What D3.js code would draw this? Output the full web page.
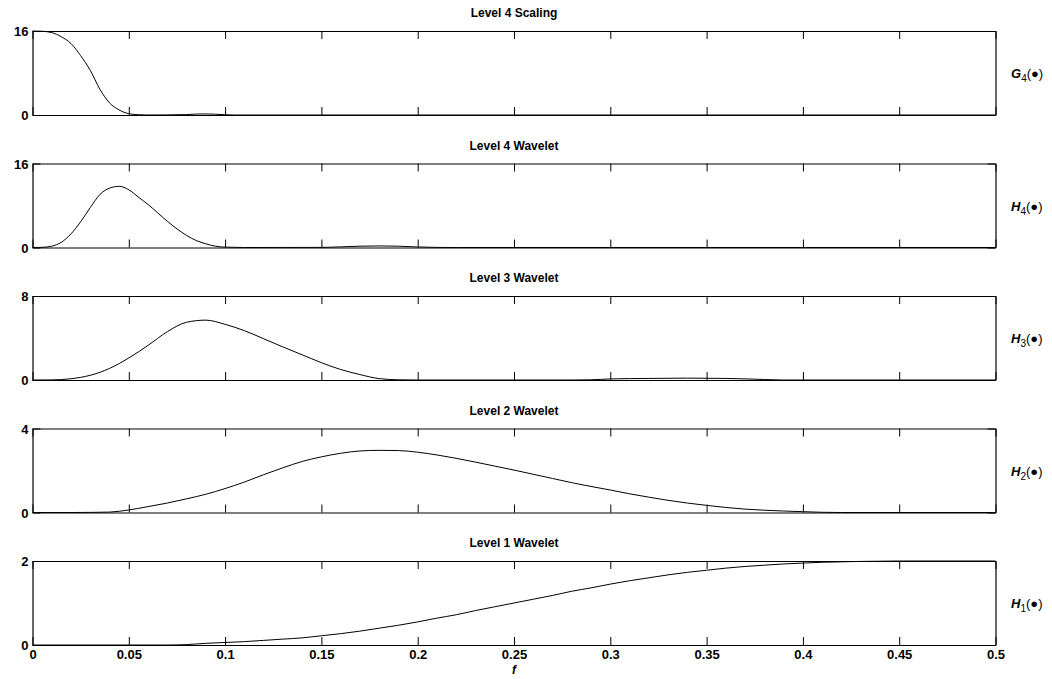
<!DOCTYPE html>
<html>
<head>
<meta charset="utf-8">
<script src="https://cdn.jsdelivr.net/npm/d3@7"></script>
<style>
  html, body { margin: 0; padding: 0; background: #fff; }
  svg { display: block; }
  text { font-family: "Liberation Sans", Arial, Helvetica, sans-serif; }
</style>
</head>
<body>
<svg id="chart" width="1052" height="679"></svg>
<script>
// ---------------- data ----------------
const panelTitles = ["Level 4 Scaling", "Level 4 Wavelet", "Level 3 Wavelet", "Level 2 Wavelet", "Level 1 Wavelet"];
const sideLetters = ["G", "H", "H", "H", "H"];
const sideSubs = ["4", "4", "3", "2", "1"];
const yMaxes = [16, 16, 8, 4, 2];
const xTicks = [0, 0.05, 0.1, 0.15, 0.2, 0.25, 0.3, 0.35, 0.4, 0.45, 0.5];
const xTickLabels = ["0", "0.05", "0.1", "0.15", "0.2", "0.25", "0.3", "0.35", "0.4", "0.45", "0.5"];
const xLabel = "f";

const fG4 = [0, 0.005, 0.01, 0.015, 0.02, 0.025, 0.03, 0.035, 0.04, 0.045, 0.05, 0.055, 0.06, 0.07, 0.08, 0.085, 0.09, 0.095, 0.1, 0.105, 0.12, 0.2, 0.3, 0.4, 0.5];
const G4  = [16, 15.95, 15.7, 14.9, 13.6, 11.3, 8.5, 4.9, 2.3, 0.95, 0.25, 0.05, 0, 0.02, 0.08, 0.18, 0.2, 0.15, 0.05, 0, 0, 0, 0, 0, 0];

const fH4 = [0, 0.005, 0.01, 0.015, 0.02, 0.025, 0.03, 0.035, 0.04, 0.045, 0.05, 0.055, 0.06, 0.065, 0.07, 0.075, 0.08, 0.085, 0.09, 0.095, 0.1, 0.11, 0.15, 0.16, 0.17, 0.18, 0.19, 0.2, 0.21, 0.22, 0.3, 0.4, 0.5];
const H4  = [0, 0.03, 0.25, 1.0, 2.6, 4.9, 7.6, 10.1, 11.3, 11.65, 11.0, 9.6, 8.2, 6.6, 5.0, 3.55, 2.3, 1.33, 0.7, 0.25, 0.07, 0, 0.02, 0.12, 0.25, 0.3, 0.25, 0.1, 0.02, 0, 0, 0, 0];

const fH3 = [0, 0.01, 0.02, 0.03, 0.04, 0.05, 0.06, 0.07, 0.08, 0.09, 0.1, 0.11, 0.12, 0.13, 0.14, 0.15, 0.16, 0.17, 0.18, 0.19, 0.2, 0.28, 0.29, 0.3, 0.32, 0.34, 0.36, 0.38, 0.39, 0.5];
const H3  = [0, 0.01, 0.12, 0.45, 1.1, 2.1, 3.3, 4.6, 5.5, 5.7, 5.3, 4.7, 3.93, 3.15, 2.4, 1.65, 1.0, 0.52, 0.13, 0.02, 0, 0, 0.02, 0.1, 0.15, 0.18, 0.15, 0.05, 0, 0];

const fH2 = [0, 0.02, 0.03, 0.04, 0.05, 0.06, 0.07, 0.08, 0.09, 0.1, 0.11, 0.12, 0.13, 0.14, 0.15, 0.16, 0.17, 0.18, 0.19, 0.2, 0.21, 0.22, 0.23, 0.24, 0.25, 0.26, 0.27, 0.28, 0.29, 0.3, 0.31, 0.32, 0.33, 0.34, 0.35, 0.36, 0.37, 0.38, 0.39, 0.4, 0.41, 0.42, 0.5];
const H2  = [0, 0, 0.005, 0.02, 0.12, 0.28, 0.45, 0.65, 0.87, 1.14, 1.45, 1.8, 2.13, 2.43, 2.65, 2.82, 2.93, 2.96, 2.95, 2.87, 2.74, 2.58, 2.4, 2.21, 2.02, 1.82, 1.62, 1.42, 1.24, 1.07, 0.89, 0.73, 0.58, 0.45, 0.34, 0.24, 0.16, 0.11, 0.07, 0.04, 0.01, 0, 0];

const fH1 = [0, 0.05, 0.07, 0.08, 0.09, 0.1, 0.11, 0.12, 0.13, 0.14, 0.15, 0.16, 0.17, 0.18, 0.19, 0.2, 0.21, 0.22, 0.23, 0.24, 0.25, 0.26, 0.27, 0.28, 0.29, 0.3, 0.31, 0.32, 0.33, 0.34, 0.35, 0.36, 0.37, 0.38, 0.39, 0.4, 0.41, 0.42, 0.43, 0.44, 0.45, 0.5];
const H1  = [0, 0, 0, 0.01, 0.04, 0.06, 0.08, 0.11, 0.14, 0.17, 0.22, 0.27, 0.33, 0.4, 0.47, 0.55, 0.64, 0.72, 0.82, 0.91, 1.0, 1.09, 1.18, 1.28, 1.36, 1.45, 1.53, 1.6, 1.67, 1.73, 1.78, 1.83, 1.87, 1.9, 1.93, 1.95, 1.97, 1.98, 1.99, 1.995, 2.0, 2.0];

const seriesF = [fG4, fH4, fH3, fH2, fH1];
const seriesV = [G4, H4, H3, H2, H1];

// ---------------- layout ----------------
const svg = d3.select("#chart");
const left = 32.5, right = 995.5;
const panelTop0 = 31, panelStep = 132.5, panelH = 84;
const tickLen = 8;

const x = d3.scaleLinear().domain([0, 0.5]).range([left, right]);

panelTitles.forEach((title, i) => {
  const top = panelTop0 + i * panelStep;
  const bottom = top + panelH;
  const y = d3.scaleLinear().domain([0, yMaxes[i]]).range([bottom, top]);
  const g = svg.append("g");

  const axB = d3.axisBottom(x).tickValues(xTicks).tickSize(-tickLen).tickSizeOuter(0)
    .tickFormat((d, k) => i === panelTitles.length - 1 ? xTickLabels[k] : "");
  const gb = g.append("g").attr("transform", `translate(0,${bottom})`).call(axB);
  const axT = d3.axisTop(x).tickValues(xTicks).tickSize(-tickLen).tickSizeOuter(0).tickFormat("");
  const gt = g.append("g").attr("transform", `translate(0,${top})`).call(axT);
  const axL = d3.axisLeft(y).tickValues([0, yMaxes[i]]).tickSize(-tickLen).tickSizeOuter(0).tickFormat(d3.format("d"));
  const gl = g.append("g").attr("transform", `translate(${left},0)`).call(axL);
  const axR = d3.axisRight(y).tickValues([0, yMaxes[i]]).tickSize(-tickLen).tickSizeOuter(0).tickFormat("");
  const gr = g.append("g").attr("transform", `translate(${right},0)`).call(axR);

  [gb, gt, gl, gr].forEach(a => {
    a.select(".domain").attr("stroke", "#000").attr("stroke-width", 1.2);
    a.selectAll(".tick line").attr("stroke", "#000").attr("stroke-width", 1);
    a.selectAll(".tick text").attr("fill", "#000")
      .style("font-family", '"Liberation Sans", Arial, sans-serif')
      .style("font-size", "13px").style("font-weight", "bold");
  });
  gl.selectAll(".tick text").attr("x", -4).attr("dy", "0.36em");
  gb.selectAll(".tick text").attr("y", 4).attr("dy", "0.75em");

  const pts = seriesF[i].map((f, k) => [f, seriesV[i][k]]);
  g.append("path")
    .datum(pts)
    .attr("fill", "none")
    .attr("stroke", "#000")
    .attr("stroke-width", 1)
    .attr("d", d3.line().x(d => x(d[0])).y(d => y(d[1])).curve(d3.curveMonotoneX));

  g.append("text")
    .attr("x", (left + right) / 2)
    .attr("y", top - 14)
    .attr("text-anchor", "middle")
    .style("font-size", "12px")
    .style("font-weight", "bold")
    .text(title);

  const lab = g.append("text")
    .attr("x", 1011)
    .attr("y", (top + bottom) / 2 + 5)
    .style("font-size", "13px");
  lab.append("tspan").style("font-weight", "bold").style("font-style", "italic").text(sideLetters[i]);
  lab.append("tspan").attr("dy", 4).style("font-size", "10px").text(sideSubs[i]);
  lab.append("tspan").attr("dy", -4).style("font-size", "13px").text("(\u25CF)");
});

svg.append("text")
  .attr("x", (left + right) / 2)
  .attr("y", 674)
  .attr("text-anchor", "middle")
  .style("font-size", "12px")
  .style("font-weight", "bold")
  .style("font-style", "italic")
  .text(xLabel);
</script>
</body>
</html>
